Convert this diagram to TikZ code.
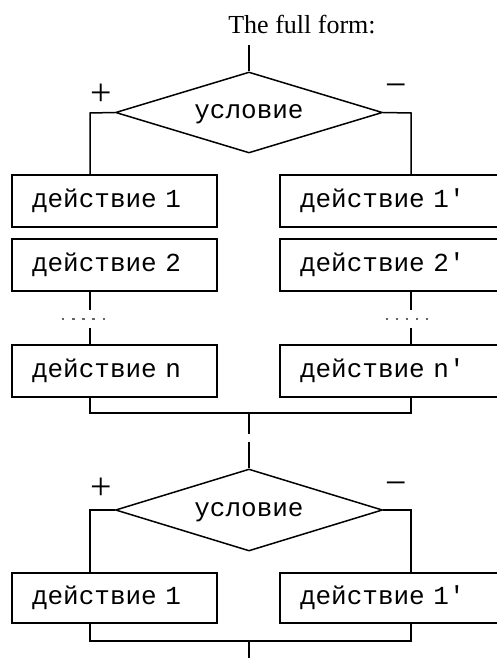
\documentclass[tikz,border=0pt]{standalone}
\usepackage{fontspec}
\setmainfont{Liberation Serif}
\newfontfamily\monof{Liberation Mono}
\usetikzlibrary{shapes.geometric}
\begin{document}
\begin{tikzpicture}[x=1pt,y=-1pt,line width=1.5pt,
  actbox/.style={draw, rectangle, minimum height=52pt, inner xsep=20pt, inner ysep=0pt,
    text width=#1, align=left, text height=13pt, text depth=0pt,
    font=\monof\fontsize{26}{26}\selectfont},
  cond/.style={draw, diamond, aspect=3.3, inner sep=0pt, minimum width=267pt, minimum height=81pt,
    text height=12pt, text depth=0pt, font=\monof\fontsize{26}{26}\selectfont},
  sign/.style={font=\fontsize{38}{38}\selectfont, inner sep=0pt},
  dot/.style={rectangle, fill=black!60, inner sep=0pt, minimum size=2.6pt}]
\clip (0,0) rectangle (497,658);
% title
\node[font=\fontsize{26}{26}\selectfont, anchor=base] (title) at (302,34) {The full form:};
% ---------- full form ----------
\coordinate (in1) at (249,45);
\node[cond] (c1) at (249,112.5) {условие};
\node[sign] (p1) at (101,95) {+};
\node[sign] (m1) at (396,91) {−};
\coordinate (lb1) at (90,113);
\coordinate (rb1) at (411,113);
\node[actbox=165pt] (L1) at (114.5,201) {действие 1};
\node[actbox=190pt] (R1) at (395,201) {действие 1'};
\node[actbox=165pt] (L2) at (114.5,265) {действие 2};
\node[actbox=190pt] (R2) at (395,265) {действие 2'};
\node[actbox=165pt] (Ln) at (114.5,371) {действие n};
\node[actbox=190pt] (Rn) at (395,371) {действие n'};
\draw (in1) -- (c1.north);
\draw (c1.west) -- (lb1) -- (L1.north -| lb1);
\draw (c1.east) -- (rb1) -- (R1.north -| rb1);
% dots
\coordinate (la) at (90,310); \coordinate (lc) at (90,328);
\coordinate (ra) at (411,310); \coordinate (rc) at (411,328);
\draw (L2.south -| la) -- (la);
\draw (lc) -- (Ln.north -| lc);
\draw (R2.south -| ra) -- (ra);
\draw (rc) -- (Rn.north -| rc);
\foreach \i in {0,...,4} {
  \node[dot] (ld\i) at (63+10.2*\i,319) {};
  \node[dot] (rd\i) at (387+10*\i,319) {};
}
% join
\coordinate (j1l) at (90,413);
\coordinate (j1r) at (411,413);
\coordinate (j1c) at (249,413);
\coordinate (j1g) at (249,434);
\coordinate (in2) at (249,442);
\draw (Ln.south -| j1l) -- (j1l) -- (j1r) -- (Rn.south -| j1r);
\draw (j1c) -- (j1g);
% ---------- short form ----------
\node[cond, minimum height=82pt] (c2) at (249,510) {условие};
\node[sign] (p2) at (101,489) {+};
\node[sign] (m2) at (396,489) {−};
\coordinate (lb2) at (90,510);
\coordinate (rb2) at (411,510);
\node[actbox=165pt, minimum height=50pt] (L3) at (114.5,598) {действие 1};
\node[actbox=190pt, minimum height=50pt] (R3) at (395,598) {действие 1'};
\draw (in2) -- (c2.north);
\draw (c2.west) -- (lb2) -- (L3.north -| lb2);
\draw (c2.east) -- (rb2) -- (R3.north -| rb2);
\coordinate (j2l) at (90,641);
\coordinate (j2r) at (411,641);
\coordinate (j2c) at (249,641);
\coordinate (out) at (249,658);
\draw (L3.south -| j2l) -- (j2l) -- (j2r) -- (R3.south -| j2r);
\draw (j2c) -- (out);
\end{tikzpicture}
\end{document}
